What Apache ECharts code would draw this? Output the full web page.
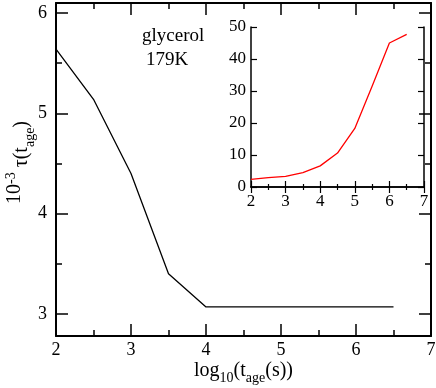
<!DOCTYPE html>
<html>
<head>
<meta charset="utf-8">
<script src="https://cdn.jsdelivr.net/npm/echarts@6/dist/echarts.min.js"></script>
<style>
  html, body { margin: 0; padding: 0; background: #fff; }
  .main { width: 436px; height: 388px; }
</style>
</head>
<body>
<div class="main"></div>
<script>
// 主图：tau(t_age) 随 log10(t_age)
var logAge = [2, 2.5, 3, 3.5, 4, 4.5, 5, 5.5, 6, 6.5];
var tauMain = [5.64, 5.14, 4.4, 3.4, 3.07, 3.07, 3.07, 3.07, 3.07, 3.07];
// 插图：红线
var tauInset = [2.4, 2.9, 3.3, 4.5, 6.6, 10.6, 18.3, 31.5, 45, 47.7];
var mainYMajor = [3, 4, 5, 6];
var mainYMinor = [3.5, 4.5, 5.5];

(function() {
  var font = "Liberation Serif";
  var myChart = echarts.init(document.querySelector(".main"));

  function pairs(xs, ys) {
    return xs.map(function(x, i) { return [x, ys[i]]; });
  }

  // 主图 x 轴
  function mainX(pos, labels) {
    return {
      type: "value", gridIndex: 0, position: pos,
      min: 2, max: 7, interval: 1,
      splitLine: { show: false },
      axisLine: { show: true, lineStyle: { color: "#000", width: 2 } },
      axisTick: { show: true, inside: true, length: 12, lineStyle: { color: "#000", width: 1.5 } },
      minorTick: { show: true, splitNumber: 2, length: 6, lineStyle: { color: "#000", width: 1.5 } },
      axisLabel: { show: labels, color: "#000", fontFamily: font, fontSize: 18, margin: 5 }
    };
  }
  // 主图 y 轴
  function mainY(pos, vals, len, labels, line) {
    return {
      type: "value", gridIndex: 0, position: pos,
      min: 2.78, max: 6.1,
      splitLine: { show: false },
      axisLine: { show: line, lineStyle: { color: "#000", width: 2 } },
      axisTick: { show: true, inside: true, length: len, customValues: vals, lineStyle: { color: "#000", width: 1.5 } },
      axisLabel: { show: labels, customValues: vals, color: "#000", fontFamily: font, fontSize: 18, margin: 9 }
    };
  }
  // 插图轴
  function insetX(pos, labels) {
    return {
      type: "value", gridIndex: 1, position: pos,
      min: 2, max: 7, interval: 1,
      splitLine: { show: false },
      axisLine: { show: true, lineStyle: { color: "#000", width: 1.5 } },
      axisTick: { show: true, inside: true, length: 6, lineStyle: { color: "#000", width: 1.2 } },
      minorTick: { show: true, splitNumber: 2, length: 3, lineStyle: { color: "#000", width: 1.2 } },
      axisLabel: { show: labels, color: "#000", fontFamily: font, fontSize: 17, margin: 6 }
    };
  }
  function insetY(pos, labels) {
    return {
      type: "value", gridIndex: 1, position: pos,
      min: 0, max: 50, interval: 10,
      splitLine: { show: false },
      axisLine: { show: true, lineStyle: { color: "#000", width: 1.5 } },
      axisTick: { show: true, inside: true, length: 6, lineStyle: { color: "#000", width: 1.2 } },
      axisLabel: { show: labels, color: "#000", fontFamily: font, fontSize: 17, margin: 5 }
    };
  }

  var xTitle = mainX("bottom", true);
  xTitle.name = "log{sub|10}(t{sub|age}(s))";
  xTitle.nameLocation = "middle";
  xTitle.nameMoveOverlap = false;
  xTitle.nameGap = 24;
  xTitle.nameTextStyle = {
    color: "#000", fontFamily: font, fontSize: 20, lineHeight: 22, verticalAlign: "top",
    rich: {
      sub: { fontFamily: font, fontSize: 14, lineHeight: 14, padding: [11, 0, 0, 0], verticalAlign: "top", color: "#000" }
    }
  };

  var yTitle = mainY("left", mainYMajor, 12, true, true);
  yTitle.name = "10{sup|-3} {b|τ(t}{sub|age}{b|)}";
  yTitle.nameLocation = "middle";
  yTitle.nameMoveOverlap = false;
  yTitle.nameGap = 60;
  yTitle.nameTextStyle = {
    color: "#000", fontFamily: font, fontSize: 20, lineHeight: 22, padding: [8, 0, 0, 14], verticalAlign: "top",
    rich: {
      b: { fontFamily: font, fontSize: 20, lineHeight: 22, padding: [8, 0, 0, 0], verticalAlign: "top", color: "#000" },
      sup: { fontFamily: font, fontSize: 14, lineHeight: 14, verticalAlign: "top", color: "#000" },
      sub: { fontFamily: font, fontSize: 14, lineHeight: 14, padding: [19, 0, 0, 0], verticalAlign: "top", color: "#000" }
    }
  };

  var option = {
    backgroundColor: "#fff",
    animation: false,
    grid: [
      { left: 56, top: 3, width: 375, height: 333, containLabel: false, outerBoundsMode: "none" },
      { left: 251, top: 27, width: 173, height: 160, containLabel: false, outerBoundsMode: "none", show: true, backgroundColor: "#fff", borderWidth: 0 }
    ],
    xAxis: [
      xTitle,
      mainX("top", false),
      insetX("bottom", true),
      insetX("top", false)
    ],
    yAxis: [
      yTitle,
      mainY("left", mainYMinor, 6, false, false),
      mainY("right", mainYMajor, 12, false, true),
      mainY("right", mainYMinor, 6, false, false),
      insetY("left", true),
      insetY("right", false)
    ],
    graphic: [
      { type: "text", left: 142, top: 27, style: { text: "glycerol", fill: "#000", font: "19px 'Liberation Serif'" } },
      { type: "text", left: 146, top: 51, style: { text: "179K", fill: "#000", font: "19px 'Liberation Serif'" } }
    ],
    series: [
      {
        type: "line", xAxisIndex: 0, yAxisIndex: 0,
        data: pairs(logAge, tauMain),
        showSymbol: false, symbol: "none",
        lineStyle: { color: "#000", width: 1.3 }
      },
      {
        type: "line", xAxisIndex: 2, yAxisIndex: 4,
        data: pairs(logAge, tauInset),
        showSymbol: false, symbol: "none",
        lineStyle: { color: "#ff0000", width: 1.3 }
      }
    ]
  };
  myChart.setOption(option);
  window.addEventListener("resize", function() {
    myChart.resize();
  });
})();
</script>
</body>
</html>
